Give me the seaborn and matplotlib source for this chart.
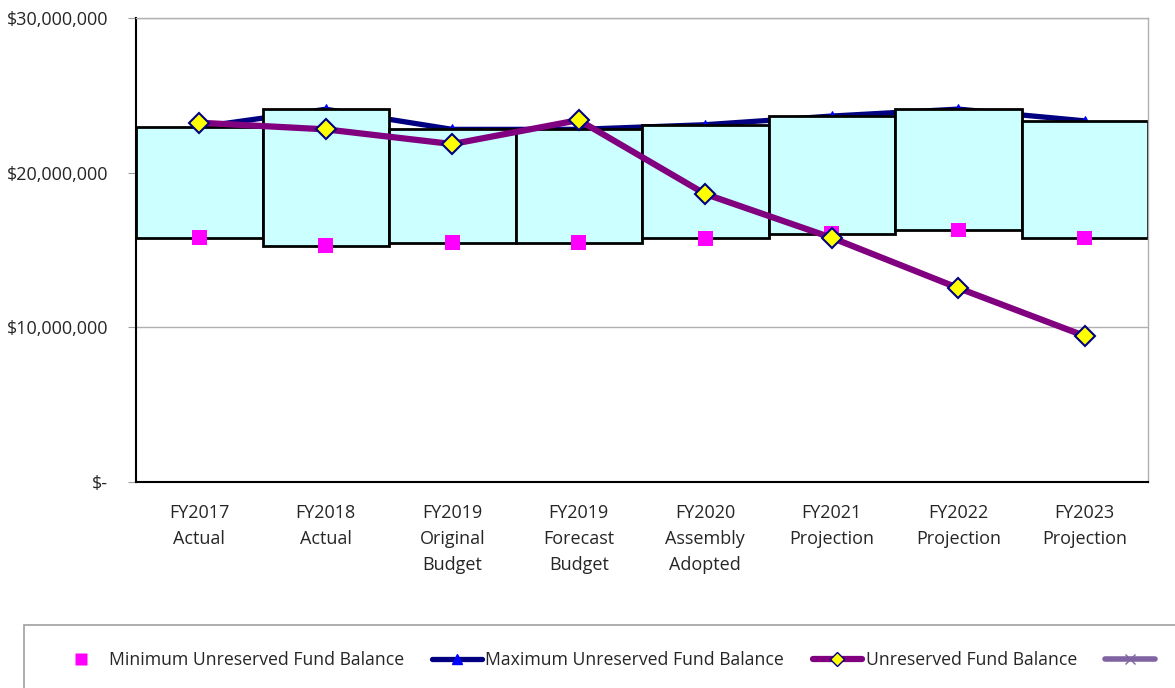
import matplotlib
matplotlib.use("Agg")
import matplotlib.pyplot as plt
import seaborn as sns
import pandas as pd
import numpy as np
from matplotlib.ticker import FuncFormatter
from matplotlib.lines import Line2D
from matplotlib.patches import Rectangle

categories = ["FY2017\nActual", "FY2018\nActual", "FY2019\nOriginal\nBudget",
              "FY2019\nForecast\nBudget", "FY2020\nAssembly\nAdopted",
              "FY2021\nProjection", "FY2022\nProjection", "FY2023\nProjection"]
min_balance = [15.8e6, 15.28e6, 15.47e6, 15.47e6, 15.75e6, 16.05e6, 16.3e6, 15.78e6]
max_balance = [22.95e6, 24.1e6, 22.8e6, 22.8e6, 23.1e6, 23.66e6, 24.11e6, 23.35e6]
unreserved = [23.23e6, 22.8e6, 21.85e6, 23.4e6, 18.62e6, 15.79e6, 12.54e6, 9.44e6]

sns.set_style("white")
plt.rcParams['font.family'] = ['Open Sans', 'DejaVu Sans']

df = pd.DataFrame({"x": np.arange(len(categories)), "min": min_balance,
                   "max": max_balance, "unres": unreserved})

fig = plt.figure(figsize=(11.75, 6.88), dpi=100)
ax = fig.add_axes([136/1175, 1-482/688, (1148-136)/1175, (482-18)/688])

# max line (behind boxes)
sns.lineplot(data=df, x="x", y="max", ax=ax, color="#000080", linewidth=3.8,
             marker="^", markersize=7, markerfacecolor="#0000FF",
             markeredgecolor="#0000FF", zorder=1, legend=False)
# floating boxes
ax.bar(df["x"], np.array(max_balance) - np.array(min_balance), bottom=min_balance,
       width=1.0, color="#CCFFFF", edgecolor="black", linewidth=2, zorder=2)
# min markers
sns.scatterplot(data=df, x="x", y="min", ax=ax, marker="s", s=110,
                color="#FF00FF", edgecolor="none", zorder=3, legend=False)
# unreserved line
sns.lineplot(data=df, x="x", y="unres", ax=ax, color="#800080", linewidth=4.5,
             marker="D", markersize=10, markerfacecolor="#FFFF00",
             markeredgecolor="#000080", markeredgewidth=1.5, zorder=4, legend=False)

ax.set_xlim(-0.5, len(categories) - 0.5)
ax.set_ylim(0, 30e6)
ax.set_yticks([0, 10e6, 20e6, 30e6])
ax.yaxis.set_major_formatter(FuncFormatter(lambda v, p: "$-" if v == 0 else f"${v:,.0f}"))
ax.set_xticks(df["x"])
ax.set_xticklabels(categories, fontsize=13, linespacing=1.55, va="top")
ax.tick_params(axis="y", labelsize=13, length=6, color="#A0A0A0", left=True, pad=14)
ax.tick_params(axis="x", length=0, pad=16)
ax.set_xlabel("")
ax.set_ylabel("")
ax.grid(axis="y", color="#B0B0B0", linewidth=1)
ax.set_axisbelow(True)
for s in ["top", "right"]:
    ax.spines[s].set_color("#B0B0B0")
    ax.spines[s].set_linewidth(1)
for s in ["left", "bottom"]:
    ax.spines[s].set_color("black")
    ax.spines[s].set_linewidth(1.5)

# legend frame
fig.patches.append(Rectangle((24/1175, -0.01), 1.0, (688-625)/688 + 0.01,
                             transform=fig.transFigure, facecolor="white",
                             edgecolor="#A0A0A0", linewidth=1.2))
handles = [
    Line2D([], [], linestyle="none", marker="s", markersize=9,
           markerfacecolor="#FF00FF", markeredgecolor="none"),
    Line2D([], [], color="#000080", linewidth=3.8, marker="^", markersize=7,
           markerfacecolor="#0000FF", markeredgecolor="#0000FF"),
    Line2D([], [], color="#800080", linewidth=4.5, marker="D", markersize=7,
           markerfacecolor="#FFFF00", markeredgecolor="#000080"),
    Line2D([], [], color="#8064A2", linewidth=4, marker="x", markersize=7,
           markeredgecolor="#8064A2"),
]
labels = ["Minimum Unreserved Fund Balance", "Maximum Unreserved Fund Balance",
          "Unreserved Fund Balance", ""]
fig.legend(handles, labels, loc="center left", bbox_to_anchor=(40/1175, 1-660/688),
           ncol=4, frameon=False, fontsize=12.7, handlelength=2.8,
           handletextpad=0.2, columnspacing=1.62)

fig.savefig("out.png", dpi=100)
